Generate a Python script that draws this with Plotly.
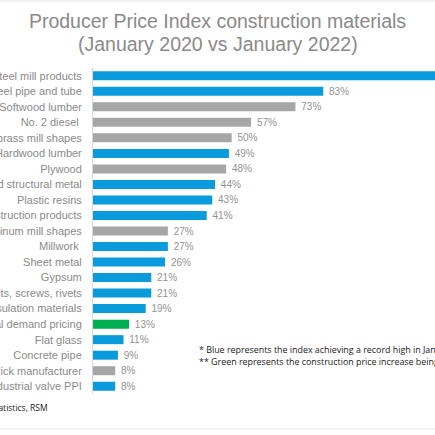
import plotly.graph_objects as go

# PPI change, January 2020 vs January 2022 (percent)
materials = [
    "Steel mill products", "Steel pipe and tube", "Softwood lumber", "No. 2 diesel ",
    "Copper and brass mill shapes", "Hardwood lumber", "Plywood", "Fabricated structural metal",
    "Plastic resins", "Plastic construction products", "Aluminum mill shapes", "Millwork ",
    "Sheet metal", "Gypsum", "Bolts, nuts, screws, rivets", "Insulation materials",
    "Final demand pricing", "Flat glass", "Concrete pipe", "Brick manufacturer",
    "Industrial valve PPI",
]
pct_change = [127, 83, 73, 57, 50, 49, 48, 44, 43, 41, 27, 27, 26, 21, 21, 19, 13, 11, 9, 8, 8]
# b = record high in Jan 2022, g = gray, f = final demand
flags = ["b", "b", "g", "g", "g", "b", "g", "b", "b", "b", "g", "b",
         "b", "b", "b", "b", "f", "b", "b", "g", "b"]

title_lines = ["Producer Price Index construction materials", "(January 2020 vs January 2022)"]
note_lines = [
    "* Blue represents the index achieving a record high in January 2022",
    "** Green represents the construction price increase being above final demand pricing",
]
source = "Source: U.S. Bureau of Labor Statistics, RSM"

palette = {"b": "#0A9BDC", "g": "#A6A6A6", "f": "#00B050"}
bar_colors = [palette[f] for f in flags]

fig = go.Figure()
fig.add_trace(go.Bar(
    x=pct_change,
    y=materials,
    orientation="h",
    marker=dict(color=bar_colors, line=dict(width=0)),
    text=["\u00a0" + f"{v}%" for v in pct_change],
    textposition="outside",
    constraintext="none",
    textfont=dict(family="Liberation Sans, Arial", size=10, color="#939393"),
    width=0.58,
))

title_font = dict(family="Liberation Sans, Arial", size=19.5, color="#8A8A8A")
fig.update_layout(
    width=435, height=435,
    margin=dict(l=93, r=0, t=68, b=41),
    paper_bgcolor="white", plot_bgcolor="white",
    showlegend=False,
    font=dict(family="Liberation Sans, Arial"),
    title=dict(
        text=title_lines[0],
        x=0.5, xanchor="center", xref="container",
        y=1 - 20.7 / 435, yanchor="middle", yref="container",
        font=title_font,
    ),
)
# second title line placed separately to keep the tight line spacing
fig.add_annotation(
    text=title_lines[1], xref="paper", yref="paper",
    x=(217.5 - 93) / 342, y=(394 - 44) / 326, xanchor="center", yanchor="middle",
    showarrow=False, font=title_font,
)

fig.update_xaxes(range=[0, 123.3], visible=False, showgrid=False, zeroline=False)
fig.update_yaxes(
    autorange="reversed", automargin=False,
    showgrid=False, zeroline=False,
    showline=True, linecolor="#D9D9D9", linewidth=1,
    ticks="", ticklabelstandoff=8,
    tickfont=dict(family="Liberation Sans, Arial", size=11, color="#8A8A8A"),
)

fig.add_annotation(
    text="<br>".join(note_lines), xref="paper", yref="paper",
    x=(197 - 93) / 342, y=(394 - 355.5) / 326, xanchor="left", yanchor="middle",
    align="left", showarrow=False,
    font=dict(family="Open Sans", size=8.9, color="#1A1A1A"),
)
fig.add_annotation(
    text=source, xref="paper", yref="paper",
    x=(50 - 93) / 342, y=(394 - 407) / 326, xanchor="right", yanchor="middle",
    showarrow=False,
    font=dict(family="Open Sans", size=8.5, color="#1A1A1A"),
)

# thin chart border lines at top and bottom
for yy in [(394 - 1) / 326, (394 - 429) / 326]:
    fig.add_shape(type="line", xref="paper", yref="paper", x0=-0.3, x1=1.1, y0=yy, y1=yy,
                  line=dict(color="#E3E3E3", width=1))

# drop the default page margin so the figure sits at the window corner
fig.write_html("out.html", config={"displayModeBar": False},
               post_script="document.body.style.margin='0';")
